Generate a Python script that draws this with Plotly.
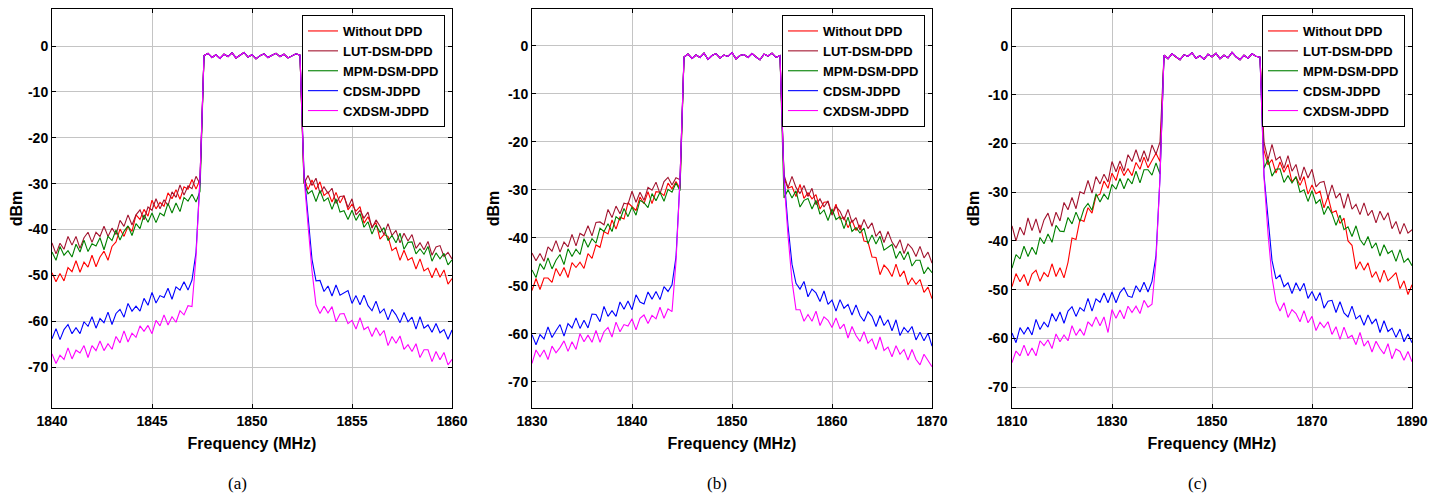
import numpy as np
import plotly.graph_objects as go

names = ["Without DPD", "LUT-DSM-DPD", "MPM-DSM-DPD", "CDSM-JDPD", "CXDSM-JDPD"]
colors = ["#FF0000", "#A2142F", "#008000", "#0000FF", "#FF00FF"]

# frequency grids (MHz), 101 equally spaced analyser bins per panel
freq_a = np.linspace(1840, 1860, 101)
freq_b = np.linspace(1830, 1870, 101)
freq_c = np.linspace(1810, 1890, 101)

xticks_a = [1840, 1845, 1850, 1855, 1860]
xticks_b = [1830, 1840, 1850, 1860, 1870]
xticks_c = [1810, 1830, 1850, 1870, 1890]
yticks = [0, -10, -20, -30, -40, -50, -60, -70]
captions = ["(a)", "(b)", "(c)"]

# ---------- panel (a) ----------
inband_a = [-2.1, -1.6, -2.5, -1.9, -2.7, -1.8, -2.3, -1.5, -2.6, -2.0, -1.4, -2.4, -1.9,
            -2.8, -2.1, -1.7, -2.5, -2.0, -1.6, -2.3, -1.8, -2.6, -2.2, -1.7, -2.0]
a_red_lo = [-49.4,-51.4,-49.6,-51.2,-48.3,-49.2,-46.8,-49.3,-47.1,-48.2,
            -45.6,-48.1,-46.0,-44.7,-46.7,-43.7,-42.7,-39.9,-41.5,-39.3,
            -40.4,-36.8,-37.8,-35.6,-37.1,-33.6,-35.5,-34.1,-34.9,-32.0,
            -33.3,-31.3,-33.4,-30.7,-31.2,-29.1,-31.2,-29.1]
a_red_hi = [-28.6,-31.3,-29.2,-31.3,-29.6,-32.6,-31.8,-34.0,-31.9,-34.2,
            -32.6,-35.7,-34.5,-36.0,-35.0,-38.6,-37.2,-39.4,-38.5,-42.1,
            -41.1,-41.5,-44.6,-43.9,-46.7,-44.5,-46.7,-46.1,-48.6,-46.4,
            -49.0,-48.4,-50.5,-48.4,-50.4,-48.8,-51.9,-50.7]
a_lut_lo = [-42.9,-45.3,-43.0,-44.3,-41.5,-43.4,-41.5,-44.1,-41.8,-40.6,
            -42.8,-40.6,-41.5,-39.3,-41.5,-39.7,-41.1,-38.0,-39.3,-36.8,
            -39.0,-36.8,-35.7,-37.9,-35.1,-35.8,-33.3,-35.5,-33.5,-34.8,
            -31.8,-33.0,-30.3,-32.5,-30.5,-31.1,-28.4,-30.1]
a_lut_hi = [-30.0,-28.2,-30.4,-28.8,-32.1,-30.7,-32.1,-31.0,-34.3,-32.8,
            -32.7,-35.2,-33.3,-36.8,-35.8,-37.5,-36.2,-39.7,-37.9,-39.3,
            -41.1,-38.7,-41.3,-40.2,-42.9,-40.8,-42.5,-41.1,-44.1,-42.9,
            -44.4,-42.6,-45.6,-43.8,-43.5,-45.9,-45.0,-46.4]
a_mpm_lo = [-44.9,-46.7,-43.7,-45.6,-44.6,-46.0,-43.2,-44.9,-42.3,-44.8,
            -43.1,-43.6,-41.8,-44.4,-41.5,-42.4,-40.1,-42.3,-40.4,-39.2,
            -41.3,-38.7,-39.8,-36.8,-38.4,-36.4,-38.5,-36.4,-37.0,-34.3,
            -36.4,-34.2,-36.1,-33.0,-33.8,-32.3,-34.0,-31.7]
a_mpm_hi = [-29.7,-32.2,-31.5,-33.9,-31.5,-33.8,-33.1,-35.6,-33.3,-36.2,
            -35.9,-37.8,-35.8,-38.0,-36.5,-39.5,-38.3,-41.0,-39.0,-40.6,
            -39.6,-42.4,-41.3,-42.9,-40.8,-44.3,-42.8,-42.7,-45.3,-44.2,
            -45.4,-43.7,-46.9,-45.1,-46.4,-45.2,-47.7,-46.6]
a_cdsm_lo = [-63.8,-61.6,-64.0,-61.8,-60.7,-62.7,-61.4,-62.7,-60.1,-61.1,
             -59.0,-61.5,-59.4,-60.3,-58.0,-60.7,-58.3,-57.4,-59.1,-56.1,
             -57.8,-56.7,-57.8,-55.0,-56.5,-53.7,-56.0,-54.4,-54.8,-52.8,
             -55.2,-52.5,-53.2,-51.4,-53.2,-51.0,-45.0,-29.0]
a_cdsm_hi = [-27.5,-37.0,-46.5,-51.2,
             -51.1,-53.5,-52.3,-54.5,-52.1,-54.3,
             -53.8,-53.3,-56.1,-54.4,-56.4,-54.3,-56.6,-57.7,-55.6,-58.2,
             -57.3,-59.7,-57.4,-58.6,-60.3,-58.1,-60.1,-59.1,-61.7,-59.0,
             -61.5,-60.8,-62.4,-60.5,-62.5,-61.8,-63.9,-61.9]
a_cx_lo = [-67.1,-69.2,-67.4,-68.3,-65.8,-68.2,-66.3,-66.9,-65.3,-67.9,
           -65.3,-66.4,-64.3,-66.4,-64.9,-66.1,-63.3,-64.7,-62.1,-64.5,
           -62.6,-63.5,-61.0,-62.2,-60.9,-62.7,-59.8,-61.0,-58.6,-60.8,
           -59.0,-60.2,-57.7,-58.6,-56.6,-56.8,-46.0,-29.0]
a_cx_hi = [-28.5,-39.0,-49.0,-56.4,
           -58.3,-56.7,-58.2,-56.8,-60.1,-58.4,
           -58.3,-60.5,-59.8,-61.7,-59.2,-61.8,-61.2,-63.3,-61.4,-63.1,
           -62.0,-65.3,-63.3,-64.8,-63.2,-66.1,-65.1,-66.6,-64.9,-67.9,
           -66.2,-66.2,-68.8,-66.6,-68.4,-66.8,-69.5,-68.3]

# ---------- panel (b) ----------
inband_b = [-2.3, -1.7, -2.6, -1.9, -2.4, -1.5, -2.8, -2.0, -1.6, -2.5, -1.9, -2.2, -1.4,
            -2.7, -2.0, -1.8, -2.4, -1.6, -2.3, -2.9, -1.7, -2.1, -1.5, -2.4, -2.0]
b_red_lo = [-51.0,-48.5,-50.8,-48.4,-48.4,-49.3,-46.4,-48.0,-46.2,-48.3,
            -45.2,-46.2,-45.1,-46.4,-43.3,-44.3,-41.5,-42.0,-38.7,-39.2,
            -36.3,-38.2,-35.7,-36.1,-32.7,-33.6,-34.3,-31.5,-32.9,-30.4,
            -32.9,-30.4,-30.5,-31.2,-28.6,-29.8,-28.3,-29.8]
b_red_hi = [-27.5,-29.7,-29.3,-31.4,-28.9,-31.8,-30.6,-31.9,-31.0,-34.0,
            -32.6,-32.5,-35.1,-33.0,-36.1,-35.7,-37.9,-36.3,-38.5,-37.3,
            -40.7,-40.9,-44.0,-44.1,-47.7,-45.7,-46.6,-48.1,-45.5,-48.1,
            -46.9,-49.8,-48.4,-49.7,-48.7,-51.4,-50.3,-52.7]
b_lut_lo = [-43.2,-44.8,-43.3,-44.9,-41.9,-42.8,-40.6,-43.0,-40.9,-41.9,
            -39.3,-41.7,-39.1,-39.6,-37.5,-39.6,-36.8,-36.7,-37.3,-34.1,
            -35.8,-33.4,-35.0,-32.8,-33.0,-30.3,-32.6,-30.5,-32.2,-29.5,
            -30.1,-28.4,-30.8,-28.3,-27.4,-29.0,-27.5,-27.9]
b_lut_hi = [-26.9,-29.6,-27.2,-29.5,-30.8,-29.1,-31.4,-29.7,-33.1,-31.9,
            -33.6,-32.3,-35.3,-33.5,-34.5,-36.3,-34.1,-36.8,-35.8,-38.4,
            -36.2,-38.1,-36.9,-39.7,-38.6,-41.0,-38.7,-40.9,-42.1,-40.4,
            -43.3,-41.3,-42.2,-43.9,-41.8,-44.2,-43.0,-45.3]
b_mpm_lo = [-46.7,-48.3,-45.4,-46.6,-44.2,-46.5,-44.7,-43.5,-45.6,-42.3,
            -43.9,-42.4,-43.5,-40.2,-42.0,-40.2,-41.1,-38.0,-38.7,-37.1,
            -38.7,-35.6,-36.3,-33.9,-35.6,-33.6,-35.3,-32.2,-32.7,-33.7,
            -30.8,-32.3,-30.5,-32.4,-29.9,-30.5,-28.6,-30.2]
b_mpm_hi = [-31.7,-30.0,-31.7,-30.2,-33.6,-32.2,-31.8,-34.0,-32.2,-35.1,
            -34.2,-36.4,-34.0,-36.2,-35.6,-38.1,-35.7,-38.7,-37.9,-39.0,
            -38.0,-41.2,-39.4,-41.3,-39.7,-42.6,-42.0,-41.4,-44.3,-42.8,
            -44.6,-42.9,-45.9,-44.7,-44.7,-47.5,-46.2,-47.3]
b_cdsm_lo = [-60.2,-62.3,-60.2,-61.1,-58.6,-60.8,-59.4,-58.1,-60.5,-57.9,
             -58.8,-56.7,-58.9,-57.2,-58.8,-55.9,-56.0,-57.5,-54.3,-56.4,
             -55.2,-56.4,-53.4,-54.9,-53.2,-55.0,-51.9,-53.4,-53.8,-51.3,
             -52.8,-51.2,-52.9,-50.2,-51.2,-49.8,-44.0,-28.0]
b_cdsm_hi = [-27.0,-37.5,-45.5,-49.5,
             -50.7,-49.1,-52.3,-50.7,-51.5,-53.3,
             -51.1,-53.9,-53.0,-55.3,-52.9,-54.7,-53.9,-56.1,-54.0,-56.2,
             -57.4,-55.4,-56.4,-58.5,-56.2,-58.3,-57.1,-59.4,-57.1,-60.4,
             -58.7,-59.7,-58.5,-61.3,-59.7,-61.5,-59.9,-62.6]
b_cx_lo = [-66.2,-63.4,-64.8,-63.4,-65.4,-62.6,-64.0,-62.9,-61.5,-63.7,
           -61.7,-63.3,-60.0,-61.7,-60.3,-61.8,-59.3,-61.8,-59.6,-58.7,
           -60.7,-57.6,-59.6,-58.1,-58.4,-56.9,-59.2,-56.8,-56.1,-57.9,
           -56.2,-56.9,-54.5,-56.8,-54.8,-55.4,-45.0,-28.0]
b_cx_hi = [-28.0,-39.5,-49.0,-55.0,
           -55.0,-57.4,-56.0,-57.4,-55.3,-58.3,
           -56.5,-57.2,-58.7,-56.7,-59.0,-58.0,-60.9,-58.5,-60.4,-61.6,
           -59.6,-62.0,-61.1,-63.3,-60.7,-63.5,-62.8,-64.8,-62.5,-64.3,
           -63.3,-65.5,-63.3,-65.4,-66.5,-64.3,-65.7,-66.9]

# ---------- panel (c) ----------
inband_c = [-1.9, -2.6, -1.6, -2.3, -2.8, -1.8, -2.1, -1.4, -2.5, -2.0, -2.7, -1.7, -2.2,
            -1.5, -2.6, -1.9, -2.4, -1.3, -2.2, -2.8, -1.9, -2.5, -1.6, -2.1, -2.3]
c_red_lo = [-49.4,-46.7,-48.4,-46.9,-49.2,-46.8,-46.0,-48.3,-46.5,-47.4,
            -44.7,-47.3,-45.5,-47.6,-44.4,-39.4,-39.7,-35.6,-36.0,-33.2,
            -34.3,-30.8,-30.4,-27.7,-29.2,-26.1,-27.6,-24.7,-26.6,-25.2,
            -26.6,-23.9,-25.3,-22.8,-25.0,-23.4,-22.0,-23.7]
c_red_hi = [-21.4,-24.4,-23.3,-26.1,-23.8,-25.9,-24.3,-27.9,-26.9,-28.6,
            -26.8,-30.4,-28.5,-30.3,-29.8,-33.2,-30.9,-34.2,-33.8,-36.4,
            -35.3,-40.0,-40.9,-45.8,-44.3,-46.0,-44.5,-47.5,-46.3,-48.5,
            -46.0,-48.2,-47.4,-46.5,-49.8,-48.2,-51.0,-49.0]
c_lut_lo = [-36.9,-40.0,-37.2,-38.8,-35.3,-37.9,-35.5,-38.4,-35.7,-34.3,
            -37.0,-34.1,-35.9,-32.1,-33.6,-31.1,-33.4,-29.9,-30.3,-27.6,
            -30.2,-26.8,-28.3,-26.3,-27.9,-23.7,-25.8,-23.6,-25.7,-22.3,
            -23.7,-21.3,-23.8,-21.5,-23.7,-20.3,-22.2,-19.7]
c_lut_hi = [-19.8,-23.3,-20.2,-23.4,-22.7,-25.1,-22.5,-25.7,-24.3,-27.6,
            -24.8,-27.1,-25.3,-28.9,-28.0,-27.8,-31.2,-28.5,-31.2,-30.2,
            -33.3,-30.3,-33.5,-32.5,-34.6,-32.2,-34.8,-33.7,-36.3,-33.9,
            -35.7,-34.2,-37.5,-36.0,-38.6,-36.4,-38.4,-37.7]
c_mpm_lo = [-45.6,-42.8,-43.7,-41.1,-43.2,-41.3,-42.8,-39.3,-40.6,-38.6,
            -40.3,-36.8,-38.0,-38.1,-35.2,-36.5,-34.1,-36.0,-33.4,-32.3,
            -33.7,-30.3,-32.0,-30.4,-31.5,-28.4,-29.4,-27.2,-29.3,-27.2,
            -28.3,-25.7,-28.1,-25.4,-25.4,-26.5,-24.0,-26.3]
c_mpm_hi = [-25.1,-23.3,-26.7,-25.3,-25.2,-28.0,-26.6,-28.1,-26.8,-30.0,
            -29.5,-31.9,-29.7,-32.3,-31.5,-34.6,-32.9,-34.4,-36.8,-34.7,
            -37.7,-37.1,-39.1,-36.9,-39.7,-40.9,-39.1,-41.5,-40.4,-43.1,
            -40.8,-42.6,-42.0,-44.2,-41.8,-44.4,-43.6,-45.1]
c_cdsm_lo = [-58.9,-60.9,-57.8,-59.1,-57.7,-59.3,-56.1,-58.2,-56.7,-57.7,
             -54.9,-56.5,-54.6,-56.9,-54.4,-53.5,-55.5,-53.7,-54.4,-51.8,
             -54.4,-51.9,-52.6,-50.7,-52.7,-50.5,-52.7,-50.6,-49.6,-51.3,
             -51.6,-49.2,-50.5,-48.5,-50.5,-48.3,-43.0,-27.0]
c_cdsm_hi = [-26.5,-36.0,-44.0,-47.8,
             -47.0,-49.4,-48.6,-50.8,-48.6,-50.3,
             -48.7,-51.8,-50.4,-52.3,-50.6,-53.8,-52.4,-52.2,-54.7,-52.5,
             -54.8,-55.6,-53.4,-56.0,-55.3,-57.3,-55.2,-57.0,-56.0,-58.8,
             -56.4,-58.6,-57.9,-59.8,-58.1,-60.7,-59.1,-60.9]
c_cx_lo = [-65.0,-62.6,-63.6,-61.4,-63.6,-62.0,-63.6,-60.5,-61.5,-60.3,
           -62.1,-59.1,-60.7,-59.3,-60.5,-57.4,-59.4,-58.1,-59.4,-56.6,
           -57.5,-55.6,-57.4,-55.6,-58.8,-54.1,-55.9,-54.2,-56.0,-53.4,
           -54.7,-53.4,-54.9,-52.2,-53.6,-53.0,-44.0,-27.0]
c_cx_hi = [-27.0,-38.5,-47.5,-52.5,
           -54.4,-52.7,-55.7,-54.1,-54.9,-56.6,
           -54.3,-56.8,-55.5,-58.4,-56.7,-57.8,-56.6,-59.2,-57.6,-60.2,
           -57.7,-59.9,-59.4,-61.3,-58.8,-61.6,-60.5,-62.8,-60.6,-62.1,
           -63.2,-61.1,-64.2,-62.2,-62.7,-64.5,-62.7,-64.8]

panels = [
    dict(freq=freq_a, inband=inband_a, xticks=xticks_a, yrange=[-78.9, 8.07],
         lo=[a_red_lo, a_lut_lo, a_mpm_lo, a_cdsm_lo, a_cx_lo],
         hi=[a_red_hi, a_lut_hi, a_mpm_hi, a_cdsm_hi, a_cx_hi]),
    dict(freq=freq_b, inband=inband_b, xticks=xticks_b, yrange=[-75.5, 7.7],
         lo=[b_red_lo, b_lut_lo, b_mpm_lo, b_cdsm_lo, b_cx_lo],
         hi=[b_red_hi, b_lut_hi, b_mpm_hi, b_cdsm_hi, b_cx_hi]),
    dict(freq=freq_c, inband=inband_c, xticks=xticks_c, yrange=[-74.3, 7.6],
         lo=[c_red_lo, c_lut_lo, c_mpm_lo, c_cdsm_lo, c_cx_lo],
         hi=[c_red_hi, c_lut_hi, c_mpm_hi, c_cdsm_hi, c_cx_hi]),
]

# the page places the figure 8 px in from the top-left corner
W, H = 1455, 496
OFF = 8
left_px = [52 - OFF, 532 - OFF, 1012 - OFF]
plot_w = 400
top_px, bot_px = 9 - OFF, 408 - OFF
ydom = [1 - bot_px / H, 1 - top_px / H]

FONT = "Liberation Sans"
fig = go.Figure()
layout = dict(width=W, height=H, margin=dict(l=0, r=0, t=0, b=0, autoexpand=False),
              paper_bgcolor="white", plot_bgcolor="white", showlegend=True,
              annotations=[])

for p, panel in enumerate(panels):
    sfx = "" if p == 0 else str(p + 1)
    for k in range(5):
        y = list(panel["lo"][k]) + list(panel["inband"]) + list(panel["hi"][k])
        assert len(y) == len(panel["freq"]), (p, k, len(y))
        fig.add_trace(go.Scatter(
            x=panel["freq"], y=y, mode="lines", name=names[k],
            line=dict(color=colors[k], width=1.1),
            xaxis="x" + sfx, yaxis="y" + sfx, legend="legend" + sfx,
        ))
    x0 = left_px[p] / W
    x1 = (left_px[p] + plot_w) / W
    axis_common = dict(showline=True, linecolor="black", linewidth=1, mirror="ticks",
                       ticks="inside", ticklen=4, tickcolor="black", automargin=False,
                       showgrid=True, gridcolor="#c4c4c4", gridwidth=1, zeroline=False,
                       tickfont=dict(family=FONT, size=14, color="black"))
    layout["xaxis" + sfx] = dict(
        domain=[x0, x1], anchor="y" + sfx, range=[panel["freq"][0], panel["freq"][-1]],
        tickmode="array", tickvals=panel["xticks"],
        ticktext=["<b>%d</b>" % v for v in panel["xticks"]],
        title=dict(text="<b>Frequency (MHz)</b>", standoff=10,
                   font=dict(family=FONT, size=16, color="black")),
        **axis_common)
    layout["yaxis" + sfx] = dict(
        domain=ydom, anchor="x" + sfx, range=panel["yrange"],
        tickmode="array", tickvals=yticks,
        ticktext=["<b>%d</b>" % v for v in yticks],
        title=dict(text="<b>dBm</b>", standoff=4,
                   font=dict(family=FONT, size=16, color="black")),
        **axis_common)
    layout["legend" + sfx] = dict(
        x=(left_px[p] + plot_w - 7) / W, y=1 - (15 - OFF) / H, xanchor="right", yanchor="top",
        bgcolor="white", bordercolor="black", borderwidth=1,
        font=dict(family=FONT, size=13, color="black", weight="bold"),
        itemwidth=30, tracegroupgap=0)
    layout["annotations"].append(dict(
        text=captions[p], x=(left_px[p] + 185) / W, y=1 - (483 - OFF) / H,
        xref="paper", yref="paper", showarrow=False, xanchor="center", yanchor="middle",
        font=dict(family="Liberation Serif", size=17, color="black")))

fig.update_layout(**layout)
fig.write_html("out.html")
